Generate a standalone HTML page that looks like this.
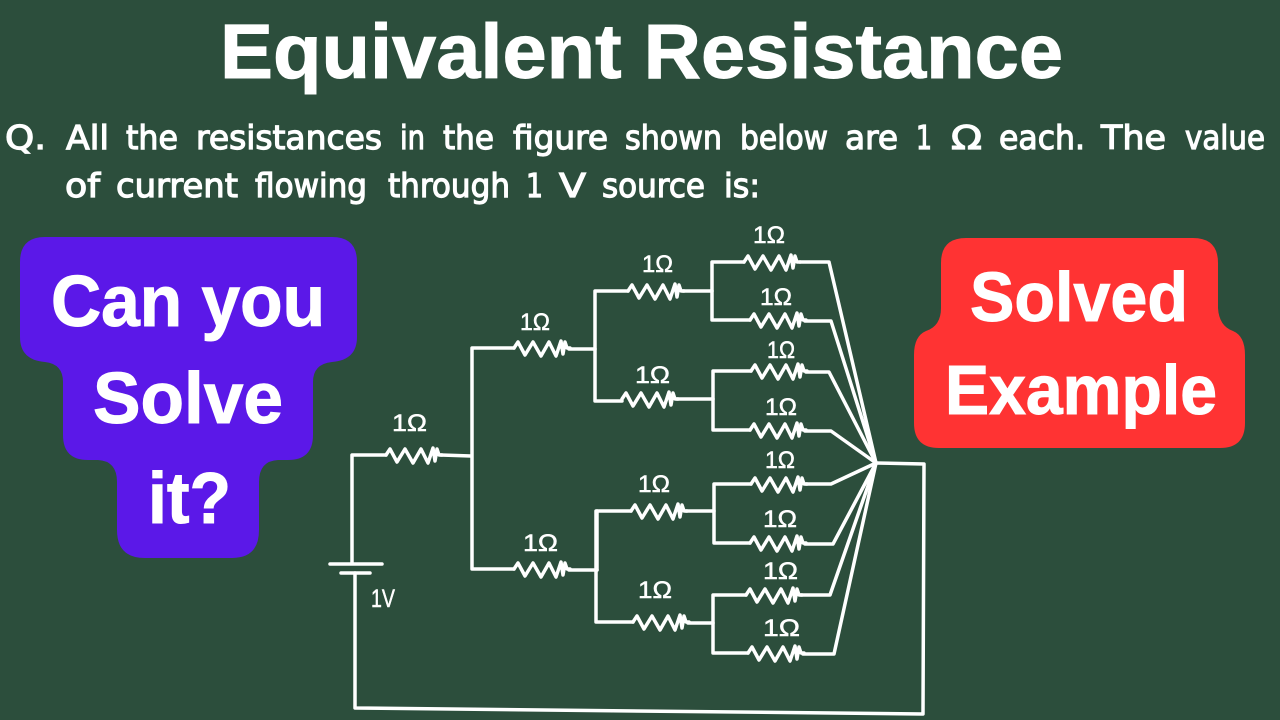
<!DOCTYPE html>
<html>
<head>
<meta charset="utf-8">
<style>
html,body{margin:0;padding:0;width:1280px;height:720px;overflow:hidden;background:#2c4e3c}
svg{display:block}
.h{font-family:"Liberation Sans",sans-serif;font-weight:700;fill:#fff;stroke:#fff;stroke-width:1px}
.q{font-family:"DejaVu Sans",sans-serif;font-size:33px;fill:#fff;stroke:#fff;stroke-width:1.2px}
.l{font-family:"Liberation Sans",sans-serif;font-size:24px;fill:#fff;stroke:#fff;stroke-width:.5px}
.w{fill:none;stroke:#fff;stroke-width:3.5;stroke-linecap:round;stroke-linejoin:round}
</style>
</head>
<body>
<svg width="1280" height="720" viewBox="0 0 1280 720" xmlns="http://www.w3.org/2000/svg">
<defs>
<path id="r" class="w" d="M0,0 L4,-6 L11,7 L19,-6 L27,8 L35,-6 L42,8 L47,-7 L49,6 L51,-6 L53,0 L56,0"/>
</defs>
<rect width="1280" height="720" fill="#2c4e3c"/>

<text class="h" x="220" y="78" font-size="77" textLength="843" lengthAdjust="spacingAndGlyphs">Equivalent Resistance</text>

<g class="q">
<text x="5" y="149" textLength="41" lengthAdjust="spacingAndGlyphs">Q.</text>
<text x="66" y="149" textLength="43" lengthAdjust="spacingAndGlyphs">All</text>
<text x="126" y="149" textLength="52" lengthAdjust="spacingAndGlyphs">the</text>
<text x="196" y="149" textLength="186" lengthAdjust="spacingAndGlyphs">resistances</text>
<text x="400" y="149" textLength="25" lengthAdjust="spacingAndGlyphs">in</text>
<text x="443" y="149" textLength="51" lengthAdjust="spacingAndGlyphs">the</text>
<text x="513" y="149" textLength="95" lengthAdjust="spacingAndGlyphs">figure</text>
<text x="625" y="149" textLength="97" lengthAdjust="spacingAndGlyphs">shown</text>
<text x="740" y="149" textLength="88" lengthAdjust="spacingAndGlyphs">below</text>
<text x="845" y="149" textLength="53" lengthAdjust="spacingAndGlyphs">are</text>
<text x="916" y="149" textLength="16" lengthAdjust="spacingAndGlyphs">1</text>
<text x="951" y="149" textLength="31" lengthAdjust="spacingAndGlyphs">Ω</text>
<text x="999" y="149" textLength="86" lengthAdjust="spacingAndGlyphs">each.</text>
<text x="1101" y="149" textLength="65" lengthAdjust="spacingAndGlyphs">The</text>
<text x="1185" y="149" textLength="80" lengthAdjust="spacingAndGlyphs">value</text>
<text x="65" y="197" textLength="35" lengthAdjust="spacingAndGlyphs">of</text>
<text x="116" y="197" textLength="122" lengthAdjust="spacingAndGlyphs">current</text>
<text x="255" y="197" textLength="112" lengthAdjust="spacingAndGlyphs">flowing</text>
<text x="388" y="197" textLength="122" lengthAdjust="spacingAndGlyphs">through</text>
<text x="526" y="197" textLength="17" lengthAdjust="spacingAndGlyphs">1</text>
<text x="559" y="197" textLength="27" lengthAdjust="spacingAndGlyphs">V</text>
<text x="602" y="197" textLength="103" lengthAdjust="spacingAndGlyphs">source</text>
<text x="724" y="197" textLength="36" lengthAdjust="spacingAndGlyphs">is:</text>
</g>

<path fill="#5b18e8" d="M45,237 H332 Q357,237 357,262 V337 Q357,360 332,362 Q313,364 313,382 V435 Q313,460 288,460 H278 Q259,461 259,482 V530 Q259,558 232,558 H145 Q117,558 117,530 V482 Q117,461 98,460 H88 Q63,460 63,435 V382 Q63,364 45,362 Q20,360 20,337 V262 Q20,237 45,237 Z"/>
<text class="h" x="51" y="326" font-size="72" textLength="274" lengthAdjust="spacingAndGlyphs">Can you</text>
<text class="h" x="93" y="423" font-size="72" textLength="190" lengthAdjust="spacingAndGlyphs">Solve</text>
<text class="h" x="148" y="523" font-size="72" textLength="83" lengthAdjust="spacingAndGlyphs">it?</text>

<path fill="#ff3333" d="M966,238 H1193 Q1218,238 1218,263 V308 Q1219,326 1233,331 Q1245,336 1245,355 V423 Q1245,448 1220,448 H939 Q914,448 914,423 V355 Q914,336 926,331 Q941,326 941,308 V263 Q941,238 966,238 Z"/>
<text class="h" x="970" y="321" font-size="70" textLength="218" lengthAdjust="spacingAndGlyphs">Solved</text>
<text class="h" x="945" y="414" font-size="70" textLength="272" lengthAdjust="spacingAndGlyphs">Example</text>

<g class="w">
<path d="M352,563 V455 H386"/>
<path d="M441,455 L471,456"/>
<path d="M330,564 H382"/>
<path d="M341,573 H370"/>
<path d="M355,573 V708 L923,714 L924,464 L876,463"/>
<path d="M514,348 H472 V569 H514"/>
<path d="M569,349 H595"/>
<path d="M569,570 H597"/>
<path d="M628,291 H595 V401 H622"/>
<path d="M683,291 H712"/>
<path d="M677,399 H713"/>
<path d="M744,262 H712 V320 H750"/>
<path d="M751,371 H713 V430 H750"/>
<path d="M631,511 H596 V622 H633"/>
<path d="M597,570 V511"/>
<path d="M686,511 H714"/>
<path d="M688,623 H713"/>
<path d="M751,484 H714 V543 H750"/>
<path d="M746,595 H713 V653 H748"/>
<path d="M800,262 H829 L876,463"/>
<path d="M805,321 H831 L876,463"/>
<path d="M806,372 H829 L876,463"/>
<path d="M805,431 H831 L876,463"/>
<path d="M806,484 H831 L876,463"/>
<path d="M805,544 H833 L876,463"/>
<path d="M801,595 H830 L876,463"/>
<path d="M803,654 H834 L876,463"/>
</g>

<use href="#r" x="386" y="455"/>
<use href="#r" x="514" y="348"/>
<use href="#r" x="514" y="569"/>
<use href="#r" x="628" y="291"/>
<use href="#r" x="622" y="399"/>
<use href="#r" x="631" y="511"/>
<use href="#r" x="633" y="622"/>
<use href="#r" x="744" y="262"/>
<use href="#r" x="750" y="320"/>
<use href="#r" x="751" y="371"/>
<use href="#r" x="750" y="430"/>
<use href="#r" x="751" y="484"/>
<use href="#r" x="750" y="543"/>
<use href="#r" x="746" y="595"/>
<use href="#r" x="748" y="653"/>

<g class="l">
<text x="392" y="431" textLength="35" lengthAdjust="spacingAndGlyphs">1Ω</text>
<text x="520" y="330" textLength="30" lengthAdjust="spacingAndGlyphs">1Ω</text>
<text x="523" y="551" textLength="35" lengthAdjust="spacingAndGlyphs">1Ω</text>
<text x="753" y="243" textLength="32" lengthAdjust="spacingAndGlyphs">1Ω</text>
<text x="642" y="272" textLength="31" lengthAdjust="spacingAndGlyphs">1Ω</text>
<text x="760" y="305" textLength="32" lengthAdjust="spacingAndGlyphs">1Ω</text>
<text x="635" y="383" textLength="35" lengthAdjust="spacingAndGlyphs">1Ω</text>
<text x="767" y="358" textLength="28" lengthAdjust="spacingAndGlyphs">1Ω</text>
<text x="765" y="415" textLength="32" lengthAdjust="spacingAndGlyphs">1Ω</text>
<text x="765" y="468" textLength="30" lengthAdjust="spacingAndGlyphs">1Ω</text>
<text x="638" y="492" textLength="32" lengthAdjust="spacingAndGlyphs">1Ω</text>
<text x="763" y="527" textLength="34" lengthAdjust="spacingAndGlyphs">1Ω</text>
<text x="763" y="579" textLength="35" lengthAdjust="spacingAndGlyphs">1Ω</text>
<text x="638" y="598" textLength="34" lengthAdjust="spacingAndGlyphs">1Ω</text>
<text x="763" y="636" textLength="37" lengthAdjust="spacingAndGlyphs">1Ω</text>
<text x="371" y="607" textLength="24" lengthAdjust="spacingAndGlyphs" font-size="25">1V</text>
</g>
</svg>
</body>
</html>
